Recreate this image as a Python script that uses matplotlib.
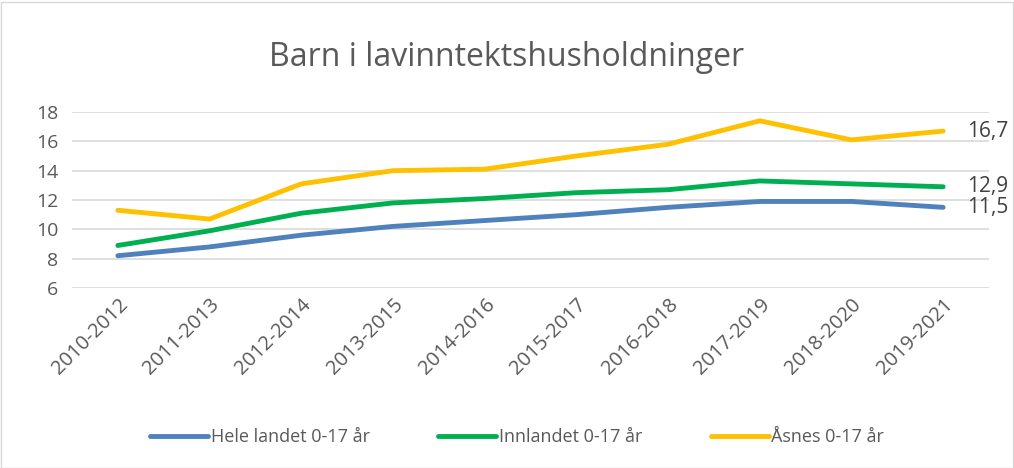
import matplotlib.pyplot as plt
from matplotlib.patches import Rectangle

periods = ["2010-2012", "2011-2013", "2012-2014", "2013-2015", "2014-2016",
           "2015-2017", "2016-2018", "2017-2019", "2018-2020", "2019-2021"]
hele_landet = [8.2, 8.8, 9.6, 10.2, 10.6, 11.0, 11.5, 11.9, 11.9, 11.5]
innlandet = [8.9, 9.9, 11.1, 11.8, 12.1, 12.5, 12.7, 13.3, 13.1, 12.9]
asnes = [11.3, 10.7, 13.1, 14.0, 14.1, 15.0, 15.8, 17.4, 16.1, 16.7]
series_names = ["Hele landet 0-17 år", "Innlandet 0-17 år", "Åsnes 0-17 år"]
colors = ["#4F81BD", "#00B050", "#FFC000"]

plt.rcParams['font.family'] = ['Open Sans', 'DejaVu Sans']
txt = "#595959"

fig = plt.figure(figsize=(10.14, 4.68), dpi=100)
ax = fig.add_axes([72 / 1014, 1 - 288 / 468, (989 - 72) / 1014, 176 / 468])

x = range(len(periods))
for vals, name, c in zip([hele_landet, innlandet, asnes], series_names, colors):
    ax.plot(x, vals, color=c, lw=3.5, solid_capstyle='round', label=name)
    ax.text(len(periods) - 1 + 0.26, vals[-1], f"{vals[-1]:.1f}".replace(".", ","),
            va='center', ha='left', fontsize=15, color="#404040")

ax.set_xlim(-0.5, len(periods) - 0.5)
ax.set_ylim(6, 18)
ax.set_yticks(range(6, 19, 2))
ax.set_xticks(list(x))
ax.set_xticklabels(periods, rotation=45, ha='right', rotation_mode='anchor')
ax.tick_params(axis='x', length=0, labelsize=14.5, colors=txt, pad=5)
ax.tick_params(axis='y', length=0, labelsize=14, colors=txt, pad=10)
ax.grid(axis='y', color="#D9D9D9", lw=1.2)
ax.set_axisbelow(True)
for s in ax.spines.values():
    s.set_visible(False)

fig.text(0.5, 1 - 58 / 468, "Barn i lavinntektshusholdninger", ha='center', va='center',
         fontsize=23, color=txt)

fig.legend(loc='center', bbox_to_anchor=(0.51, 1 - 437 / 468), ncol=3, frameon=False,
           fontsize=13, handlelength=3.2, handletextpad=0.15, columnspacing=3.8,
           labelcolor=txt)

fig.patches.append(Rectangle((0.5 / 1014, 0.5 / 468), 1012 / 1014, 466 / 468,
                             transform=fig.transFigure, fill=False, ec="#D9D9D9", lw=1))

fig.savefig("out.png", dpi=100)
